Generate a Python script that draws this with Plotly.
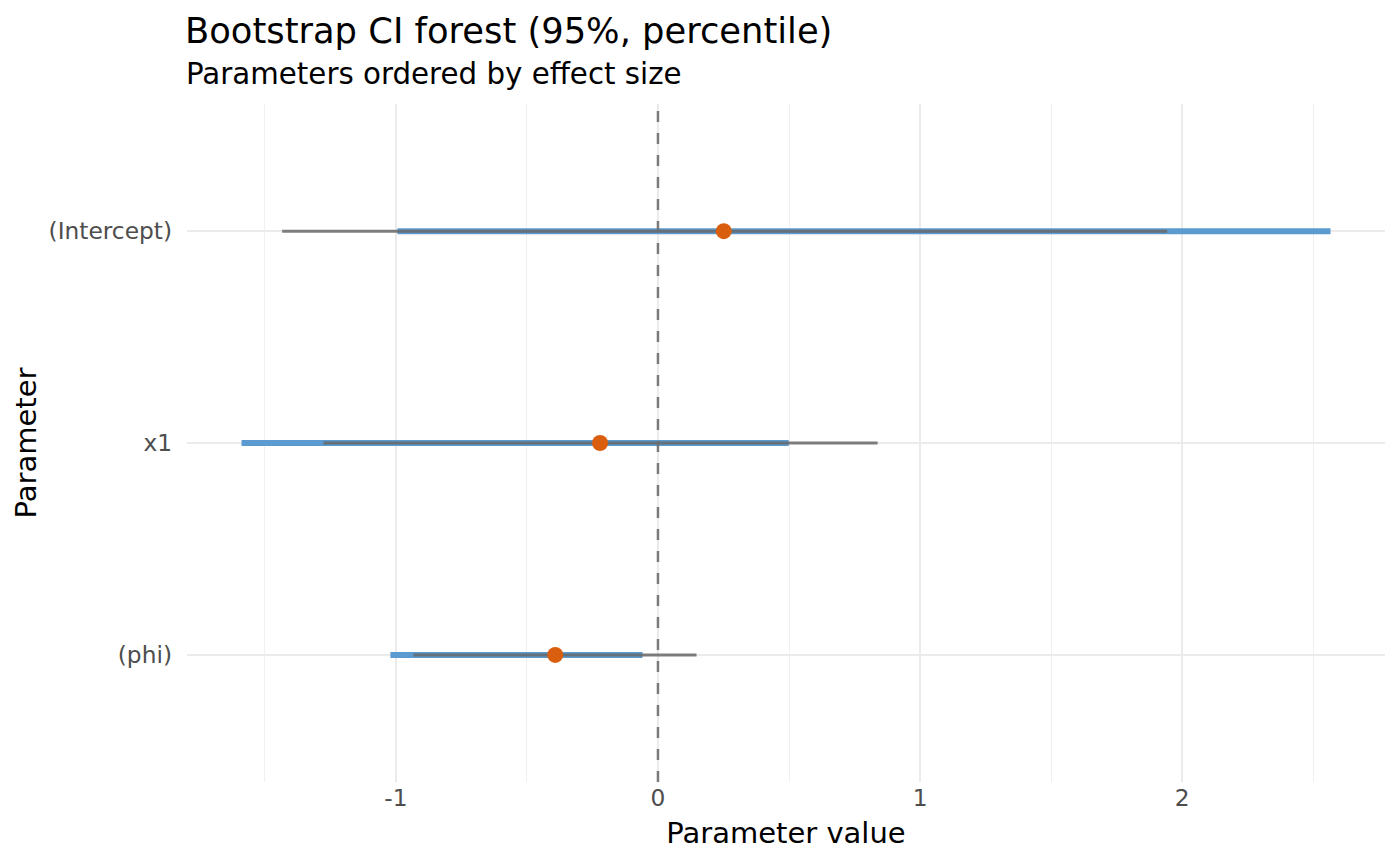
import plotly.graph_objects as go

params = ["(phi)", "x1", "(Intercept)"]
estimate = [-0.392, -0.221, 0.251]
blue_lo = [-1.021, -1.589, -0.994]
blue_hi = [-0.059, 0.499, 2.566]
gray_lo = [-0.933, -1.276, -1.434]
gray_hi = [0.147, 0.838, 1.943]

title = "Bootstrap CI forest (95%, percentile)"
subtitle = "Parameters ordered by effect size"
x_ticks = [-1, 0, 1, 2]

ypos = list(range(1, len(params) + 1))

W, H = 1400, 866
ML, MR, MT, MB = 187, 15, 104, 84
plot_h = H - MT - MB
plot_w = W - ML - MR

fig = go.Figure()

for i, y in enumerate(ypos):
    fig.add_trace(go.Scatter(
        x=[blue_lo[i], blue_hi[i]], y=[y, y], mode="lines",
        line=dict(color="#5B9BCF", width=6), hoverinfo="skip", showlegend=False))
for i, y in enumerate(ypos):
    fig.add_trace(go.Scatter(
        x=[gray_lo[i], gray_hi[i]], y=[y, y], mode="lines",
        line=dict(color="rgba(105,105,105,0.85)", width=3), hoverinfo="skip", showlegend=False))

fig.add_shape(type="line", xref="x", yref="paper", x0=0, x1=0, y0=0, y1=1,
              line=dict(color="rgba(110,110,110,0.9)", width=2.5, dash="11px,11px"), layer="above")

fig.add_trace(go.Scatter(
    x=estimate, y=ypos, mode="markers",
    marker=dict(color="#D95F0E", size=16, line=dict(width=0)), showlegend=False))

fig.update_layout(
    width=W, height=H,
    paper_bgcolor="white", plot_bgcolor="white",
    margin=dict(l=ML, r=MR, t=MT, b=MB),
    font=dict(family="DejaVu Sans", color="black"),
    title=dict(text=title, x=(ML - 2) / W, xanchor="left", xref="container",
               y=1 - 31 / H, yanchor="middle", yref="container",
               font=dict(size=35.3, color="black")),
    annotations=[dict(text=subtitle, xref="paper", yref="paper",
                      x=-3 / plot_w, xanchor="left", y=(H - MB - 74) / plot_h, yanchor="middle",
                      showarrow=False, font=dict(size=29.3, color="black"))],
)

fig.update_xaxes(
    range=[-1.797, 2.774], tickvals=x_ticks, ticktext=[str(t) for t in x_ticks],
    showgrid=True, gridcolor="#EBEBEB", gridwidth=2,
    minor=dict(dtick=0.5, tick0=0.5, showgrid=True, gridcolor="#EFEFEF", gridwidth=1.3),
    zeroline=False, showline=False, ticks="",
    tickfont=dict(size=23.3, color="#4D4D4D"),
    title=dict(text="Parameter value", font=dict(size=29, color="black"), standoff=12),
)
fig.update_yaxes(
    range=[0.4, 3.6], tickvals=ypos, ticktext=params,
    showgrid=True, gridcolor="#EBEBEB", gridwidth=2,
    zeroline=False, showline=False, ticks="", ticklabelstandoff=14,
    tickfont=dict(size=23.3, color="#4D4D4D"),
    title=dict(text="Parameter", font=dict(size=29, color="black"), standoff=3),
)

fig.write_html("out.html", post_script="document.body.style.margin='0';",
               config={"displayModeBar": False})
